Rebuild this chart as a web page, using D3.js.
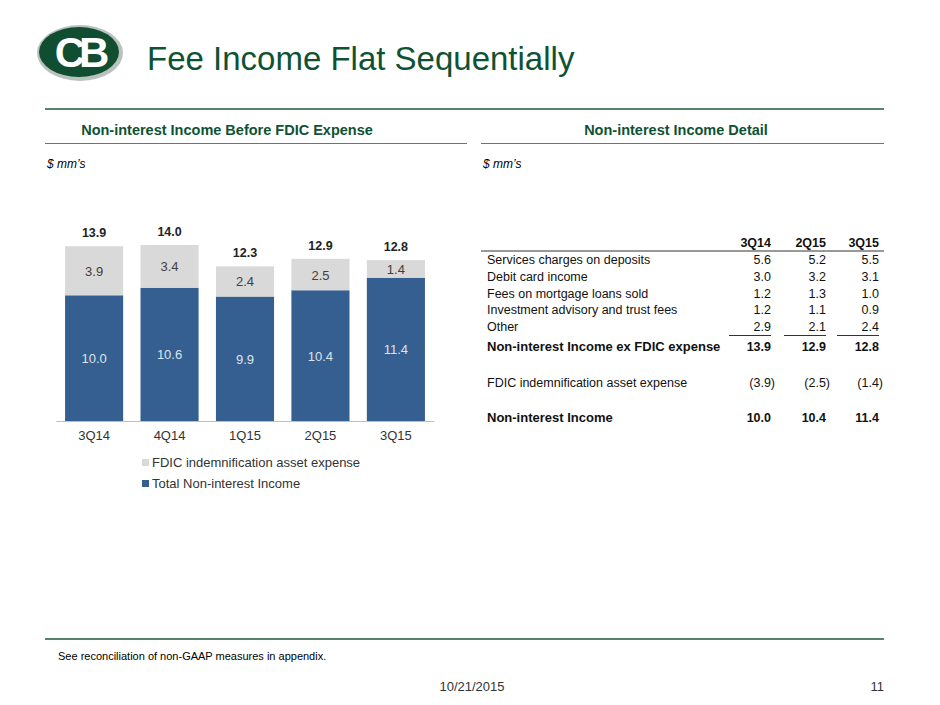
<!DOCTYPE html>
<html><head><meta charset="utf-8">
<script src="https://cdn.jsdelivr.net/npm/d3@7"></script>
<style>body{margin:0;background:#fff}text{font-family:"Liberation Sans",Arial,sans-serif}</style>
</head><body><svg id="c" width="940" height="705"></svg>
<script>
// chart data
var quarters = ["3Q14", "4Q14", "1Q15", "2Q15", "3Q15"];
var totalNonInterest = [10.0, 10.6, 9.9, 10.4, 11.4];
var fdicExpense = [3.9, 3.4, 2.4, 2.5, 1.4];
var beforeFdic = [13.9, 14.0, 12.3, 12.9, 12.8];

// table data
var tableCols = ["3Q14", "2Q15", "3Q15"];
var tableRows = ["Services charges on deposits", "Debit card income", "Fees on mortgage loans sold", "Investment advisory and trust fees", "Other"];
var tableVals = [["5.6","5.2","5.5"],["3.0","3.2","3.1"],["1.2","1.3","1.0"],["1.2","1.1","0.9"],["2.9","2.1","2.4"]];
var exFdic = ["13.9", "12.9", "12.8"];
var fdicRow = ["(3.9)", "(2.5)", "(1.4)"];
var nonInterest = ["10.0", "10.4", "11.4"];

var green = "#0e5233", blue = "#365f91", grey = "#d9d9d9";
var svg = d3.select("#c");

// logo
var logo = svg.append("g");
logo.append("ellipse").attr("cx", 80).attr("cy", 53).attr("rx", 43).attr("ry", 28).attr("fill", "#b9c2bd");
logo.append("ellipse").attr("cx", 79).attr("cy", 52).attr("rx", 40).attr("ry", 25).attr("fill", "#104d31");
logo.append("text").attr("x", 79).attr("y", 67).attr("text-anchor", "middle").attr("font-size", 42)
  .attr("font-weight", "bold").attr("fill", "#fff").attr("letter-spacing", -6).text("CB");

svg.append("text").attr("x", 147).attr("y", 70).attr("font-size", 33).attr("fill", green).text("Fee Income Flat Sequentially");
svg.append("line").attr("x1", 45).attr("x2", 884).attr("y1", 109).attr("y2", 109).attr("stroke", "#1f5a3a").attr("stroke-width", 1.5);

function section(x1, x2, cx, title) {
  svg.append("text").attr("x", cx).attr("y", 135).attr("text-anchor", "middle").attr("font-size", 14.5)
    .attr("font-weight", "bold").attr("fill", green).text(title);
  svg.append("line").attr("x1", x1).attr("x2", x2).attr("y1", 143.5).attr("y2", 143.5).attr("stroke", "#5b8068");
  svg.append("text").attr("x", x1 + 2).attr("y", 168).attr("font-size", 12).attr("font-style", "italic").text("$ mm’s");
}
section(45, 467, 227, "Non-interest Income Before FDIC Expense");
section(481, 884, 676, "Non-interest Income Detail");

// bar chart
var x = d3.scaleBand().domain(quarters).range([56, 434]).paddingInner(0.23).paddingOuter(0.12);
var y = d3.scaleLinear().domain([0, 14]).range([421, 245]);
var g = svg.append("g");
quarters.forEach(function (q, i) {
  g.append("rect").attr("x", x(q)).attr("width", x.bandwidth()).attr("y", y(totalNonInterest[i]))
    .attr("height", y(0) - y(totalNonInterest[i])).attr("fill", blue);
  g.append("rect").attr("x", x(q)).attr("width", x.bandwidth()).attr("y", y(beforeFdic[i]))
    .attr("height", y(totalNonInterest[i]) - y(beforeFdic[i])).attr("fill", grey);
  var cx = x(q) + x.bandwidth() / 2;
  g.append("text").attr("x", cx).attr("y", (y(0) + y(totalNonInterest[i])) / 2 + 5).attr("text-anchor", "middle")
    .attr("font-size", 13).attr("fill", "#dde3ec").text(totalNonInterest[i].toFixed(1));
  g.append("text").attr("x", cx).attr("y", (y(totalNonInterest[i]) + y(beforeFdic[i])) / 2 + 5).attr("text-anchor", "middle")
    .attr("font-size", 13).attr("fill", "#404040").text(fdicExpense[i].toFixed(1));
  g.append("text").attr("x", cx).attr("y", y(beforeFdic[i]) - 9).attr("text-anchor", "middle")
    .attr("font-size", 12.5).attr("font-weight", "bold").attr("fill", "#222").text(beforeFdic[i].toFixed(1));
});
var ax = svg.append("g").attr("transform", "translate(0,421)").call(d3.axisBottom(x).tickSize(0).tickPadding(10));
ax.select(".domain").attr("stroke", "#bfbfbf");
ax.selectAll("text").attr("font-size", 13).attr("fill", "#333").style("font-family", "Liberation Sans, Arial");

[["FDIC indemnification asset expense", grey, 463], ["Total Non-interest Income", blue, 484]].forEach(function (l) {
  svg.append("rect").attr("x", 142).attr("y", l[2] - 4).attr("width", 7).attr("height", 7).attr("fill", l[1]);
  svg.append("text").attr("x", 152).attr("y", l[2] + 4).attr("font-size", 13).attr("fill", "#333").text(l[0]);
});

// table
var colX = [771, 826, 879];
var t = svg.append("g").attr("font-size", 12.5).attr("fill", "#111");
tableCols.forEach(function (c, j) {
  t.append("text").attr("x", colX[j]).attr("y", 247).attr("text-anchor", "end").attr("font-weight", "bold").text(c);
});
svg.append("line").attr("x1", 481).attr("x2", 884).attr("y1", 251).attr("y2", 251).attr("stroke", "#333");
tableRows.forEach(function (r, i) {
  var yy = 264 + i * 16.8;
  t.append("text").attr("x", 487).attr("y", yy).text(r);
  tableVals[i].forEach(function (v, j) {
    t.append("text").attr("x", colX[j]).attr("y", yy).attr("text-anchor", "end").text(v);
  });
});
colX.forEach(function (cx) {
  svg.append("line").attr("x1", cx - 42).attr("x2", cx).attr("y1", 335.5).attr("y2", 335.5).attr("stroke", "#333");
});
function row(label, vals, yy, bold) {
  t.append("text").attr("x", 487).attr("y", yy).attr("font-weight", bold ? "bold" : null).attr("font-size", bold ? 13 : null).text(label);
  vals.forEach(function (v, j) {
    t.append("text").attr("x", colX[j] + (v[0] === "(" ? 4 : 0)).attr("y", yy).attr("text-anchor", "end")
      .attr("font-weight", bold ? "bold" : null).text(v);
  });
}
row("Non-interest Income ex FDIC expense", exFdic, 351, true);
row("FDIC indemnification asset expense", fdicRow, 387, false);
row("Non-interest Income", nonInterest, 422, true);

// footer
svg.append("line").attr("x1", 45).attr("x2", 884).attr("y1", 639).attr("y2", 639).attr("stroke", "#1f5a3a").attr("stroke-width", 1.5);
svg.append("text").attr("x", 58).attr("y", 660).attr("font-size", 11).text("See reconciliation of non-GAAP measures in appendix.");
svg.append("text").attr("x", 472).attr("y", 691).attr("text-anchor", "middle").attr("font-size", 13).attr("fill", "#333").text("10/21/2015");
svg.append("text").attr("x", 884).attr("y", 691).attr("text-anchor", "end").attr("font-size", 13).attr("fill", "#333").text("11");
</script></body></html>
